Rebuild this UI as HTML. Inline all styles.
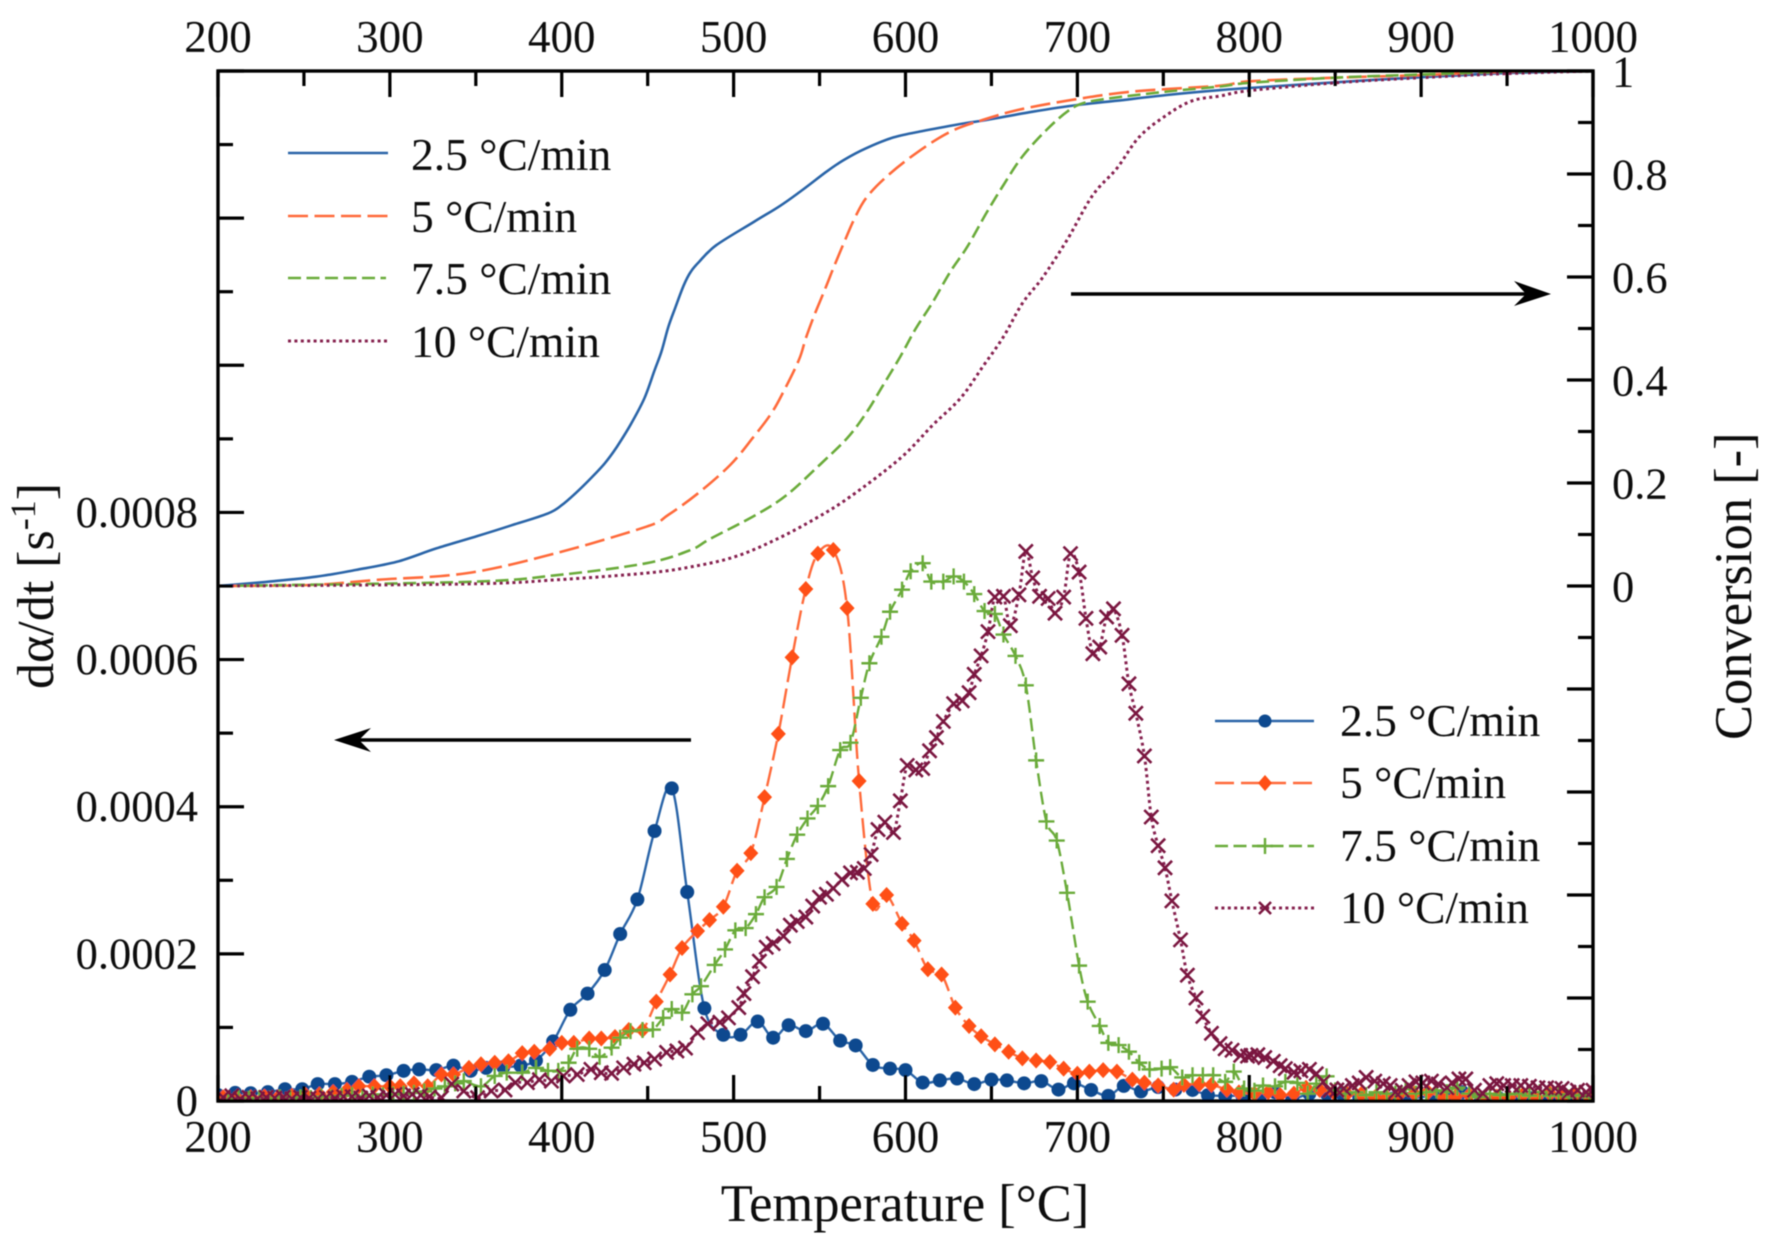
<!DOCTYPE html>
<html lang="en">
<head>
<meta charset="utf-8">
<title>Conversion and conversion rate versus temperature</title>
<style>
  html, body { margin: 0; padding: 0; background: #fff; }
  svg { display: block; }
  text { font-family: "Liberation Serif", serif; fill: #111; }
</style>
</head>
<body>
<svg id="chart" xmlns="http://www.w3.org/2000/svg" width="1772" height="1243" viewBox="0 0 1772 1243">
  <defs>
    <clipPath id="plot-clip"><rect x="218" y="71" width="1375" height="1030"/></clipPath>
    <filter id="soft" x="-2%" y="-2%" width="104%" height="104%"><feGaussianBlur stdDeviation="0.6"/></filter>
  </defs>
  <rect x="0" y="0" width="1772" height="1243" fill="#fff"/>
  <g filter="url(#soft)">
    <g id="conversion-curves" clip-path="url(#plot-clip)"></g>
    <g id="rate-curves" clip-path="url(#plot-clip)"></g>
    <g id="axes"></g>

    <g font-size="45.5">
      <line x1="288" x2="388" y1="153" y2="153" stroke="#2a65a8" stroke-width="2.6"/>
      <text x="411" y="170">2.5 °C/min</text>
      <line x1="288" x2="388" y1="216" y2="216" stroke="#ff6a3a" stroke-width="2.6" stroke-dasharray="20 6.5"/>
      <text x="411" y="232">5 °C/min</text>
      <line x1="288" x2="386" y1="278" y2="278" stroke="#6aab3a" stroke-width="2.6" stroke-dasharray="13 5.5"/>
      <text x="411" y="294">7.5 °C/min</text>
      <line x1="288" x2="388" y1="341" y2="341" stroke="#862050" stroke-width="3" stroke-dasharray="3 3.4"/>
      <text x="411" y="357">10 °C/min</text>
    </g>

    <g font-size="45.5">
      <line x1="1215" x2="1314" y1="721" y2="721" stroke="#2a65a8" stroke-width="2.6"/>
      <circle cx="1265" cy="721" r="6.5" fill="#0c4a8f"/>
      <text x="1340" y="736">2.5 °C/min</text>
      <line x1="1215" x2="1314" y1="783" y2="783" stroke="#ff6a3a" stroke-width="2.6" stroke-dasharray="19 7"/>
      <path d="M1265 775l7 8-7 8-7-8z" fill="#ff4f12"/>
      <text x="1340" y="798">5 °C/min</text>
      <line x1="1215" x2="1314" y1="846" y2="846" stroke="#6aab3a" stroke-width="2.6" stroke-dasharray="13 5.5"/>
      <path d="M1257 846h16M1265 838v16" stroke="#6aab3a" stroke-width="2.4" fill="none"/>
      <text x="1340" y="861">7.5 °C/min</text>
      <line x1="1215" x2="1314" y1="908" y2="908" stroke="#862050" stroke-width="3" stroke-dasharray="3 3.4"/>
      <path d="M1259 902l12 12M1271 902l-12 12" stroke="#7a1440" stroke-width="2.6" fill="none"/>
      <text x="1340" y="923">10 °C/min</text>
    </g>

    <g>
      <line x1="1071" x2="1540" y1="294" y2="294" stroke="#000" stroke-width="3.4"/>
      <path d="M1551 294L1514 281L1526 294L1514 306Z" fill="#000"/>
    </g>
    <g>
      <line x1="691" x2="345" y1="740" y2="740" stroke="#000" stroke-width="3.4"/>
      <path d="M334 740L371 728L359 740L371 752Z" fill="#000"/>
    </g>

    <text x="905" y="1221" font-size="52.5" text-anchor="middle">Temperature [°C]</text>
    <text transform="translate(53 689) rotate(-90)" font-size="52">dα/dt [s<tspan font-size="36" dy="-18">-1</tspan><tspan dy="18">]</tspan></text>
    <text transform="translate(1751 740) rotate(-90)" font-size="52.5">Conversion [-]</text>
  </g>

<script>
// ---------- Tick data ----------
const xTicks = [200, 300, 400, 500, 600, 700, 800, 900, 1000];
const xMinorTicks = [250, 350, 450, 550, 650, 750, 850, 950];
const leftMajorTicks = [0, 2, 4, 6, 8, 10, 12, 14];
const leftMinorTicks = [1, 3, 5, 7, 9, 11, 13];
const leftTickLabels = ["0", "0.0002", "0.0004", "0.0006", "0.0008"];
const rightMajorTicks = [-1, -0.8, -0.6, -0.4, -0.2, 0, 0.2, 0.4, 0.6, 0.8, 1];
const rightMinorTicks = [-0.9, -0.7, -0.5, -0.3, -0.1, 0.1, 0.3, 0.5, 0.7, 0.9];
const rightTickValues = [0, 0.2, 0.4, 0.6, 0.8, 1];
const rightTickLabels = ["0", "0.2", "0.4", "0.6", "0.8", "1"];

// ---------- Conversion curves (right axis, fraction) ----------
const convTemp25 = [200,228,257,280,304,327,351,371,392,400,408,416,425,432,440,448,454,458,462,466,471,475,480,490,512,527,540,554,564,577,593,610,632,649,674,700,723,752,783,800,850,900,950,1000];
const convVal25  = [0,.008,.018,.031,.047,.073,.097,.118,.141,.157,.18,.206,.238,.27,.313,.364,.419,.455,.503,.54,.584,.61,.63,.662,.7075,.738,.769,.8045,.827,.85,.871,.8835,.897,.906,.921,.934,.9424,.9534,.963,.967,.978,.988,.996,1];
const convTemp5  = [200,254,293,345,397,449,462,480,498,511,522,529,538,542,547,553,558,564,570,577,589,606,626,645,665,694,732,783,800,850,900,950,1000];
const convVal5   = [0,.002,.012,.025,.064,.115,.138,.182,.235,.287,.3355,.3775,.439,.481,.5264,.575,.617,.665,.711,.753,.795,.84,.882,.905,.924,.9424,.96,.9715,.98,.987,.992,.998,1];
const convTemp75 = [200,345,397,449,475,486,513,531,550,566,577,587,597,606,616,626,636,647,657,668,682,694,703,719,752,783,800,850,900,950,1000];
const convVal75  = [0,.008,.021,.044,.07,.0909,.138,.177,.235,.287,.3355,.39,.4455,.5,.552,.61,.659,.724,.7787,.834,.8855,.921,.937,.947,.96,.97,.977,.987,.993,.998,1];
const convTemp10 = [200,345,397,449,475,501,525,548,568,597,616,632,645,657,668,680,694,709,723,736,752,767,783,800,850,900,950,1000];
const convVal10  = [0,.004,.012,.025,.037,.057,.0909,.1317,.1737,.248,.313,.3646,.426,.484,.549,.6,.672,.759,.811,.872,.9146,.9424,.9514,.962,.977,.987,.995,1];

// ---------- Conversion-rate curves (left axis, units of 1e-4 per second) ----------
const rateTemp25 = [200,210,219,229,239,249,258,268,278,288,298,308,317,327,337,347,356,366,376,385,395,405,415,425,434,444,454,464,473,483,494,504,514,523,532,542,552,562,571,581,591,600,610,620,630,640,650,659,669,679,689,698,708,718,727,737,747,757,767,776,786,796,806,815,825,835,845,854,864,873,883,893,907,915,924,935,945,955,965,975,985,995];
const rateVal25  = [.08,.11,.105,.12,.16,.16,.23,.23,.26,.33,.35,.41,.43,.42,.48,.41,.45,.46,.48,.55,.81,1.24,1.46,1.78,2.27,2.74,3.67,4.25,2.84,1.26,.90,.90,1.08,.86,1.03,.95,1.05,.82,.755,.49,.44,.42,.25,.28,.305,.23,.29,.28,.24,.27,.155,.24,.15,.07,.205,.13,.19,.155,.15,.08,.07,.07,.04,.12,.03,.1,.1,.1,.05,.04,.03,.03,.07,.04,.12,.03,.04,.03,.04,.02,.03,.02];
const rateTemp5  = [203,211,219,227,235,243,251,259,267,275,282,291,300,306,314,322,330,337,346,353,361,369,377,384,393,400,407,416,423,431,439,447,455,463,470,479,486,494,502,510,518,526,534,542,549,558,566,573,581,589,598,605,613,621,629,637,644,652,660,668,676,684,692,700,707,715,723,732,739,747,756,762,771,778,787,794,803,811,818,826,833,841,849,857,865,873,880,887,896,904,913,920,928,936,944,951,959,967,975,982,990,998];
const rateVal5   = [.05,.04,.05,.06,.05,.07,.08,.09,.12,.15,.2,.2,.2,.2,.24,.2,.36,.36,.45,.5,.52,.54,.65,.67,.71,.79,.79,.85,.85,.87,.965,.965,1.35,1.72,2.08,2.31,2.46,2.64,3.13,3.37,4.13,4.99,6.03,6.96,7.44,7.49,6.70,4.35,2.68,2.80,2.41,2.18,1.79,1.72,1.27,1.02,.88,.77,.67,.58,.55,.53,.44,.37,.40,.42,.40,.29,.25,.21,.155,.22,.23,.22,.155,.117,.10,.12,.08,.10,.18,.15,.12,.1,.09,.05,.05,.08,.1,.12,.05,.06,.08,.03,.06,.05,.08,.05,.1,.05,.09,.05];
const rateTemp75 = [206,212,218,224,230,236,242,248,254,260,266,272,278,284,290,296,302,308,314,320,326,332,338,343,353,361,368,377,385,392,398,404,409,416,422,429,434,440,447,453,459,464,470,476,481,489,495,501,507,513,518,525,531,537,543,549,555,562,568,574,579,586,591,598,603,610,615,622,628,634,640,646,652,657,664,670,676,682,688,694,701,706,713,718,724,730,736,742,749,754,761,767,773,779,786,791,797,803,808,815,821,828,834,839,845,850,856,862,868,874,880,885,891,897,903,909,915,921,928,934,940,946,951,957,963,969,975,980,986,992,998];
const rateVal75  = [.03,.04,.03,.04,.03,.05,.04,.05,.04,.06,.05,.07,.08,.06,.09,.08,.09,.1,.11,.13,.17,.2,.24,.27,.2,.34,.385,.385,.45,.41,.41,.52,.71,.71,.6,.725,.86,.95,.965,.97,1.13,1.25,1.2,1.45,1.56,1.85,2.06,2.32,2.35,2.54,2.77,2.91,3.29,3.62,3.84,4.01,4.28,4.77,4.87,5.48,5.95,6.31,6.65,6.95,7.2,7.31,7.06,7.06,7.13,7.06,6.89,6.66,6.62,6.34,6.05,5.65,4.63,3.80,3.54,2.83,1.84,1.35,1.02,.79,.76,.67,.52,.43,.44,.46,.32,.35,.35,.35,.26,.40,.17,.14,.21,.2,.26,.245,.10,.235,.335,.145,.1,.12,.08,.12,.1,.1,.17,.1,.12,.145,.12,.18,.1,.05,.1,.08,.09,.1,.07,.12,.07,.09,.05,.08,.05];
const rateTemp10 = [203,208,213,218,223,228,233,238,243,248,253,258,263,268,273,278,283,288,293,298,303,308,313,318,323,330,336,343,351,359,367,373,380,387,394,401,409,417,423,429,436,442,448,454,461,467,472,479,485,492,497,503,506,511,515,519,523,529,533,537,542,546,550,554,558,563,568,572,576,580,584,588,593,597,601,606,610,614,618,622,628,633,637,640,644,648,652,657,661,666,670,674,678,683,687,692,696,701,705,709,713,717,721,726,730,734,739,743,747,751,755,760,764,769,773,778,783,786,790,795,799,801,805,809,814,818,821,826,830,835,839,843,847,851,855,860,864,868,873,878,882,885,889,893,897,901,906,910,915,918,922,926,931,936,940,944,948,953,958,963,968,973,978,982,986,991,996,1000];
const rateVal10  = [.05,.07,.03,.05,.03,.05,.04,.05,.03,.05,.04,.03,.05,.04,.06,.06,.04,.07,.05,.08,.09,.07,.09,.08,.06,.045,.23,.136,.045,.136,.15,.25,.25,.29,.27,.34,.36,.43,.385,.376,.45,.5,.52,.57,.66,.68,.72,.93,1.05,1.07,1.13,1.27,1.46,1.69,1.9,2.09,2.14,2.24,2.39,2.44,2.5,2.65,2.77,2.81,2.89,3.01,3.10,3.11,3.16,3.35,3.69,3.79,3.65,4.08,4.56,4.5,4.52,4.76,4.94,5.16,5.4,5.44,5.55,5.8,6.05,6.38,6.85,6.86,6.46,6.88,7.47,7.11,6.86,6.83,6.63,6.85,7.44,7.19,6.56,6.08,6.17,6.58,6.69,6.33,5.67,5.27,4.69,3.86,3.47,3.17,2.72,2.19,1.71,1.40,1.15,.92,.78,.71,.69,.62,.61,.62,.63,.59,.54,.48,.44,.39,.41,.43,.37,.26,.145,.15,.17,.21,.245,.32,.27,.235,.21,.12,.145,.21,.26,.245,.27,.23,.18,.245,.30,.30,.145,.1,.21,.235,.21,.21,.21,.2,.18,.18,.17,.17,.12,.145,.12,.145];

// ---------- Axis functions ----------
const plotLeft = 218, plotRight = 1593, plotTop = 71, plotBottom = 1101;
function xScale(t) { return plotLeft + (t - 200) * (plotRight - plotLeft) / 800; }
function yRate(v) { return plotBottom - v * (plotBottom - plotTop) / 14; }
function yConv(v) { return plotBottom - (v + 1) * (plotBottom - plotTop) / 2; }

const NS = "http://www.w3.org/2000/svg";
function make(tag, attrs, parent) {
  const el = document.createElementNS(NS, tag);
  for (const k in attrs) el.setAttribute(k, attrs[k]);
  parent.appendChild(el);
  return el;
}
function smoothPath(temps, vals, yFn) {
  const p = temps.map((t, i) => [xScale(t), yFn(vals[i])]);
  let d = "M" + p[0][0].toFixed(1) + " " + p[0][1].toFixed(1);
  for (let i = 0; i < p.length - 1; i++) {
    const a = p[Math.max(i - 1, 0)], b = p[i], c = p[i + 1], e = p[Math.min(i + 2, p.length - 1)];
    const c1x = b[0] + (c[0] - a[0]) / 6, c1y = b[1] + (c[1] - a[1]) / 6;
    const c2x = c[0] - (e[0] - b[0]) / 6, c2y = c[1] - (e[1] - b[1]) / 6;
    d += "C" + c1x.toFixed(1) + " " + c1y.toFixed(1) + " " + c2x.toFixed(1) + " " + c2y.toFixed(1) + " " + c[0].toFixed(1) + " " + c[1].toFixed(1);
  }
  return d;
}

// ---------- Conversion curves ----------
const convGroup = document.getElementById("conversion-curves");
const conv25 = make("path", { d: smoothPath(convTemp25, convVal25, yConv), fill: "none", stroke: "#2a65a8", "stroke-width": 2.6 }, convGroup);


const conv5 = make("path", { d: smoothPath(convTemp5, convVal5, yConv), fill: "none", stroke: "#ff6a3a", "stroke-width": 2.6, "stroke-dasharray": "20 6.5" }, convGroup);


const conv75 = make("path", { d: smoothPath(convTemp75, convVal75, yConv), fill: "none", stroke: "#6aab3a", "stroke-width": 2.6, "stroke-dasharray": "13 5.5" }, convGroup);


const conv10 = make("path", { d: smoothPath(convTemp10, convVal10, yConv), fill: "none", stroke: "#862050", "stroke-width": 3, "stroke-dasharray": "3 3.4" }, convGroup);



// ---------- Rate curves and markers ----------
const rateGroup = document.getElementById("rate-curves");

const line25 = make("path", { d: smoothPath(rateTemp25, rateVal25, yRate), fill: "none", stroke: "#2a65a8", "stroke-width": 2.4 }, rateGroup);


rateTemp25.forEach(function (t, i) {
  const m = make("circle", { cx: xScale(t), cy: yRate(rateVal25[i]), r: 7, fill: "#0c4a8f" }, rateGroup);
  
  
});

const line5 = make("path", { d: smoothPath(rateTemp5, rateVal5, yRate), fill: "none", stroke: "#ff6a3a", "stroke-width": 2.4, "stroke-dasharray": "20 6.5" }, rateGroup);


rateTemp5.forEach(function (t, i) {
  const x = xScale(t), y = yRate(rateVal5[i]);
  const m = make("path", { d: "M" + x + " " + (y - 8) + "l7.5 8-7.5 8-7.5-8z", fill: "#ff4f12" }, rateGroup);
  
  
});

const line75 = make("path", { d: smoothPath(rateTemp75, rateVal75, yRate), fill: "none", stroke: "#6aab3a", "stroke-width": 2.4, "stroke-dasharray": "13 5.5" }, rateGroup);


rateTemp75.forEach(function (t, i) {
  const x = xScale(t), y = yRate(rateVal75[i]);
  const m = make("path", { d: "M" + (x - 8) + " " + y + "h16M" + x + " " + (y - 8) + "v16", fill: "none", stroke: "#6aab3a", "stroke-width": 2.4 }, rateGroup);
  
  
});

const line10 = make("path", { d: smoothPath(rateTemp10, rateVal10, yRate), fill: "none", stroke: "#862050", "stroke-width": 3, "stroke-dasharray": "3 3.4" }, rateGroup);


rateTemp10.forEach(function (t, i) {
  const x = xScale(t), y = yRate(rateVal10[i]);
  const m = make("path", { d: "M" + (x - 7) + " " + (y - 7) + "l14 14M" + (x + 7) + " " + (y - 7) + "l-14 14", fill: "none", stroke: "#7a1440", "stroke-width": 2.6 }, rateGroup);
  
  
});

// ---------- Axes ----------
const axes = document.getElementById("axes");
const frame = make("rect", { x: plotLeft, y: plotTop, width: plotRight - plotLeft, height: plotBottom - plotTop, fill: "none", stroke: "#000", "stroke-width": 3.4 }, axes);



const majorLen = 26, minorLen = 15, tickWidth = 3.2;
xTicks.forEach(function (t) {
  const x = xScale(t);
  const topTick = make("line", { x1: x, x2: x, y1: plotTop, y2: plotTop + majorLen, stroke: "#000", "stroke-width": tickWidth }, axes);
  
  
  const bottomTick = make("line", { x1: x, x2: x, y1: plotBottom, y2: plotBottom - majorLen, stroke: "#000", "stroke-width": tickWidth }, axes);
  
  
  const topLabel = make("text", { x: x, y: 52, "font-size": 45, "text-anchor": "middle" }, axes);
  
  
  topLabel.textContent = String(t);
  const bottomLabel = make("text", { x: x, y: 1152, "font-size": 45, "text-anchor": "middle" }, axes);
  
  
  bottomLabel.textContent = String(t);
});
xMinorTicks.forEach(function (t) {
  const x = xScale(t);
  const topTick = make("line", { x1: x, x2: x, y1: plotTop, y2: plotTop + minorLen, stroke: "#000", "stroke-width": tickWidth }, axes);
  
  
  const bottomTick = make("line", { x1: x, x2: x, y1: plotBottom, y2: plotBottom - minorLen, stroke: "#000", "stroke-width": tickWidth }, axes);
  
  
});
leftMajorTicks.forEach(function (v) {
  const y = yRate(v);
  const tick = make("line", { x1: plotLeft, x2: plotLeft + majorLen, y1: y, y2: y, stroke: "#000", "stroke-width": tickWidth }, axes);
  
  
});
leftMinorTicks.forEach(function (v) {
  const y = yRate(v);
  const tick = make("line", { x1: plotLeft, x2: plotLeft + minorLen, y1: y, y2: y, stroke: "#000", "stroke-width": tickWidth }, axes);
  
  
});
leftTickLabels.forEach(function (label, i) {
  const txt = make("text", { x: 198, y: yRate(leftMajorTicks[i]) + 14.5, "font-size": 44.5, "text-anchor": "end" }, axes);
  
  
  txt.textContent = label;
});
rightMajorTicks.forEach(function (v) {
  const y = yConv(v);
  const tick = make("line", { x1: plotRight, x2: plotRight - majorLen, y1: y, y2: y, stroke: "#000", "stroke-width": tickWidth }, axes);
  
  
});
rightMinorTicks.forEach(function (v) {
  const y = yConv(v);
  const tick = make("line", { x1: plotRight, x2: plotRight - minorLen, y1: y, y2: y, stroke: "#000", "stroke-width": tickWidth }, axes);
  
  
});
rightTickLabels.forEach(function (label, i) {
  const txt = make("text", { x: 1612, y: yConv(rightTickValues[i]) + 15.5, "font-size": 44.5 }, axes);
  
  
  txt.textContent = label;
});
</script>
</svg>
</body>
</html>
